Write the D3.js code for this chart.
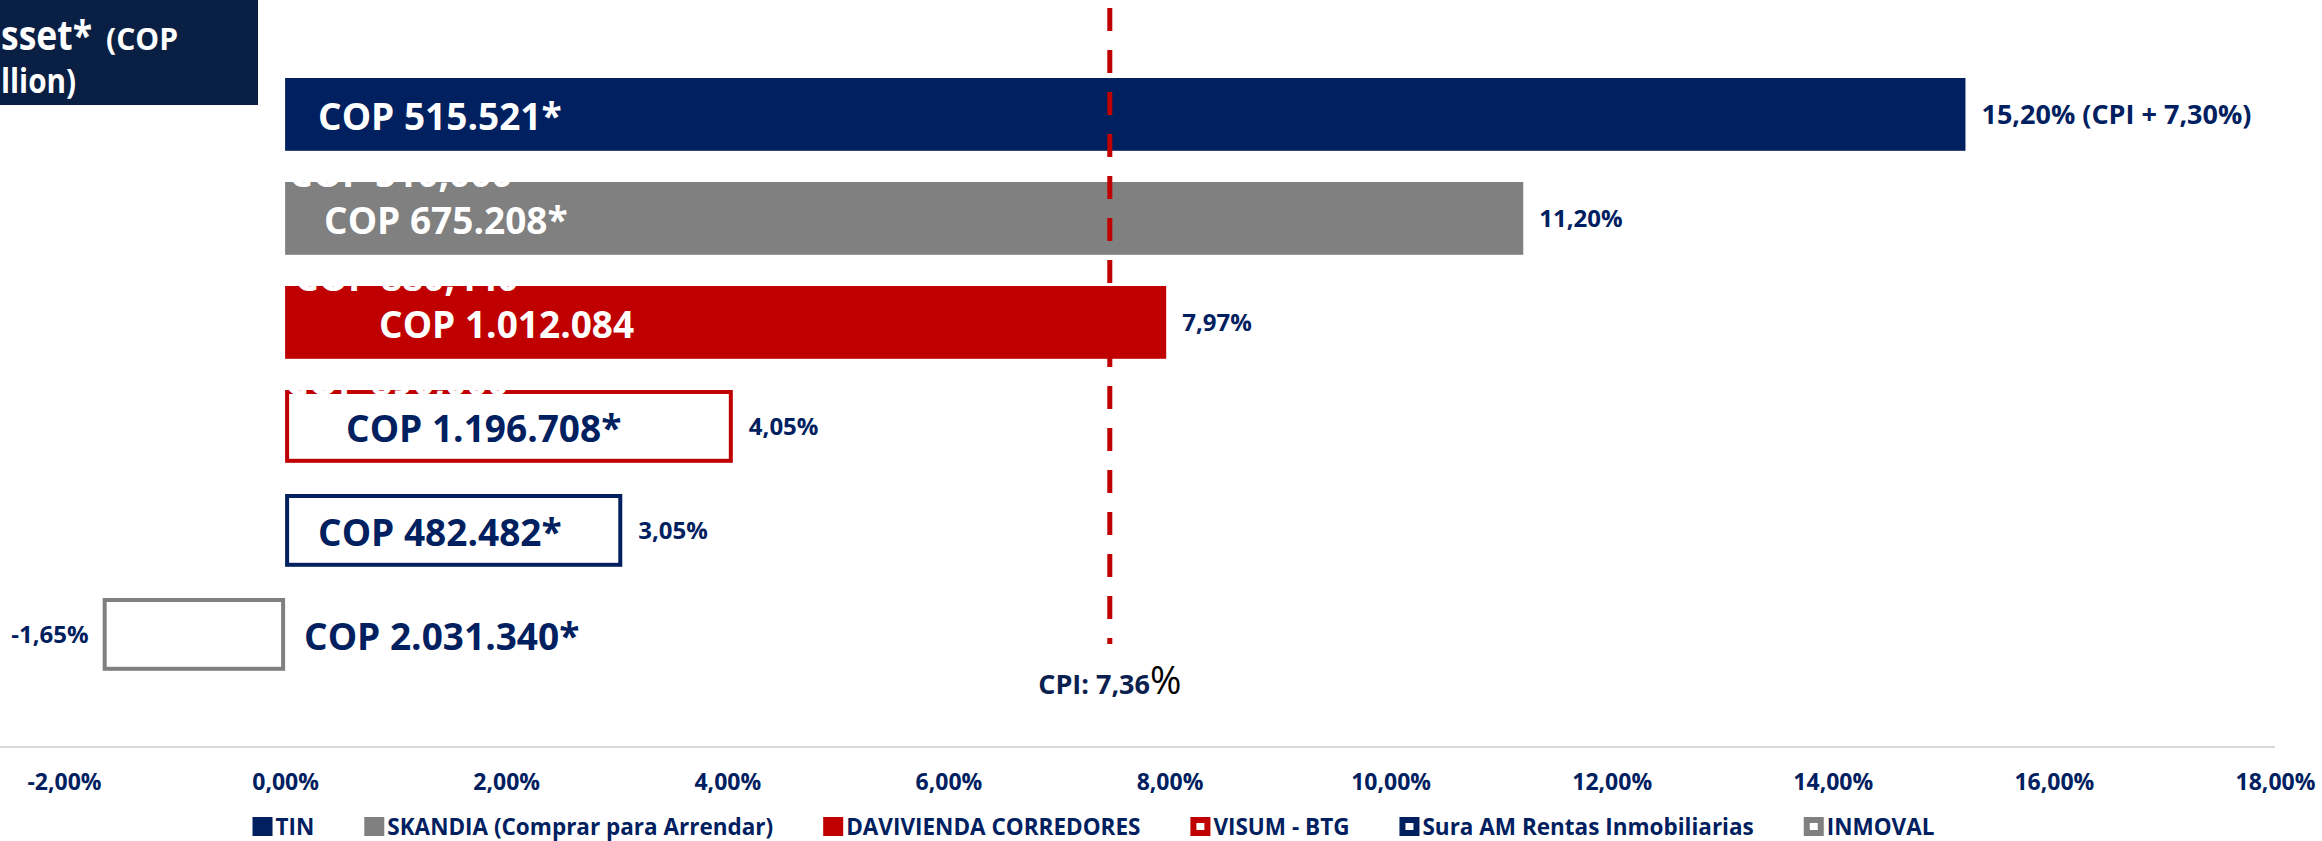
<!DOCTYPE html>
<html><head><meta charset="utf-8">
<script src="https://cdn.jsdelivr.net/npm/d3@7"></script>
<style>html,body{margin:0;padding:0;background:#fff;overflow:hidden}svg{display:block;font-family:"Open Sans",sans-serif}</style>
</head><body><svg id="chart" width="2322" height="841"></svg>
<script>
// ---- data ----
const categories = ["TIN", "SKANDIA (Comprar para Arrendar)", "DAVIVIENDA CORREDORES", "VISUM - BTG", "Sura AM Rentas Inmobiliarias", "INMOVAL"];
const returns = [15.20, 11.20, 7.97, 4.05, 3.05, -1.65];
const returnLabels = ["15,20% (CPI + 7,30%)", "11,20%", "7,97%", "4,05%", "3,05%", "-1,65%"];
const assetLabels = ["COP 515.521*", "COP 675.208*", "COP 1.012.084", "COP 1.196.708*", "COP 482.482*", "COP 2.031.340*"];
const hiddenLabels = [null, "COP 510,000", "COP 880,440", "COP 890,000", null, null];
const xTicks = [-2, 0, 2, 4, 6, 8, 10, 12, 14, 16, 18];
const cpiText = "CPI: 7,36";
const cpiLinePos = 7.46;
const titleLine1 = ["sset*", "(COP"];
const titleLine2 = "llion)";

// ---- styles / layout (not data) ----
const filled = [true, true, true, false, false, false];
const colors = ["#002060", "#808080", "#c00000", "#c00000", "#002060", "#808080"];
const labelDx = [33, 39, 94, 61, 33, 19];
const hiddenDx = [0, 4, 10, 0, 0, 0];
const returnFont = [27, 24, 24, 24, 24, 24];
const navy = "#002060";

const svg = d3.select("#chart");
const x = d3.scaleLinear().domain([-2, 18]).range([64, 2275]);
const y = d3.scaleBand().domain(categories).range([62.4, 686.4]).paddingInner(0.3).paddingOuter(0.15);
const fmt = d => d.toFixed(2).replace(".", ",") + "%";

// title box (cropped in the original)
svg.append("rect").attr("x", 0).attr("y", 0).attr("width", 258).attr("height", 105).attr("fill", "#0a1f44");
svg.append("text").attr("x", 1).attr("y", 50).attr("fill", "#fff")
  .attr("font-weight", 700).attr("font-size", 42)
  .attr("textLength", 91).attr("lengthAdjust", "spacingAndGlyphs").text(titleLine1[0]);
svg.append("text").attr("x", 106).attr("y", 50).attr("fill", "#fff")
  .attr("font-weight", 700).attr("font-size", 30).text(titleLine1[1]);
svg.append("text").attr("x", 1).attr("y", 93).attr("fill", "#fff")
  .attr("font-weight", 700).attr("font-size", 34)
  .attr("textLength", 75).attr("lengthAdjust", "spacingAndGlyphs").text(titleLine2);

// axis
const axisY = 747;
svg.append("line").attr("x1", 0).attr("x2", x(18)).attr("y1", axisY).attr("y2", axisY)
  .attr("stroke", "#d9d9d9").attr("stroke-width", 2);
const ax = svg.append("g").attr("transform", `translate(0,${axisY})`)
  .call(d3.axisBottom(x).tickValues(xTicks).tickFormat(fmt).tickSize(0).tickPadding(27));
ax.select(".domain").remove();
ax.selectAll("text").attr("font-family", "Open Sans").attr("font-weight", 700).attr("font-size", 23).attr("fill", navy);

// bars
const bars = svg.append("g");
categories.forEach((c, i) => {
  const x0 = x(0), x1 = x(returns[i]);
  const left = Math.min(x0, x1), w = Math.abs(x1 - x0);
  const top = y(c), h = y.bandwidth();
  if (filled[i]) {
    bars.append("rect").attr("x", left).attr("y", top).attr("width", w).attr("height", h).attr("fill", colors[i]);
  } else {
    bars.append("rect").attr("x", left + 2).attr("y", top + 2).attr("width", w - 4).attr("height", h - 4)
      .attr("fill", "#fff").attr("stroke", colors[i]).attr("stroke-width", 4);
  }
});

// hidden (overlapping) labels, white
categories.forEach((c, i) => {
  if (!hiddenLabels[i]) return;
  svg.append("text").attr("x", x(0) + hiddenDx[i]).attr("y", y(c) + 5)
    .attr("fill", "#fff").attr("font-weight", 700).attr("font-size", 37).text(hiddenLabels[i]);
});

// CPI line
const cx = x(cpiLinePos);
svg.append("line").attr("x1", cx).attr("x2", cx).attr("y1", 8).attr("y2", 644)
  .attr("stroke", "#c00000").attr("stroke-width", 5).attr("stroke-dasharray", "23 19");
const cpi = svg.append("text").attr("x", cx).attr("y", 694).attr("text-anchor", "middle");
cpi.append("tspan").attr("font-weight", 700).attr("font-size", 27).attr("fill", "#0a2150").text(cpiText);
cpi.append("tspan").attr("font-weight", 400).attr("font-size", 38).attr("fill", "#000").text("%");

// asset labels
categories.forEach((c, i) => {
  svg.append("text").attr("x", x(0) + labelDx[i]).attr("y", y(c) + y.bandwidth() / 2 + 3).attr("dy", "0.35em")
    .attr("fill", filled[i] ? "#fff" : navy).attr("font-weight", 700).attr("font-size", 37).text(assetLabels[i]);
});

// return labels
categories.forEach((c, i) => {
  const v = returns[i];
  svg.append("text").attr("x", v >= 0 ? x(v) + 16 : x(v) - 14).attr("y", y(c) + y.bandwidth() / 2).attr("dy", "0.35em")
    .attr("text-anchor", v >= 0 ? "start" : "end")
    .attr("fill", navy).attr("font-weight", 700).attr("font-size", returnFont[i]).text(returnLabels[i]);
});

// legend
const legend = svg.append("g");
let lx = 0;
categories.forEach((c, i) => {
  const g = legend.append("g").attr("transform", `translate(${lx},0)`);
  if (filled[i]) {
    g.append("rect").attr("x", 0).attr("y", 817).attr("width", 20).attr("height", 19).attr("fill", colors[i]);
  } else {
    g.append("rect").attr("x", 3).attr("y", 820).attr("width", 14).attr("height", 13)
      .attr("fill", "#fff").attr("stroke", colors[i]).attr("stroke-width", 6);
  }
  const t = g.append("text").attr("x", 23).attr("y", 835).attr("fill", navy).attr("font-weight", 700).attr("font-size", 22.5).text(c);
  lx += 23 + t.node().getComputedTextLength() + 50;
});
const total = lx - 50;
legend.attr("transform", `translate(${1093.5 - total / 2},0)`);
</script></body></html>
